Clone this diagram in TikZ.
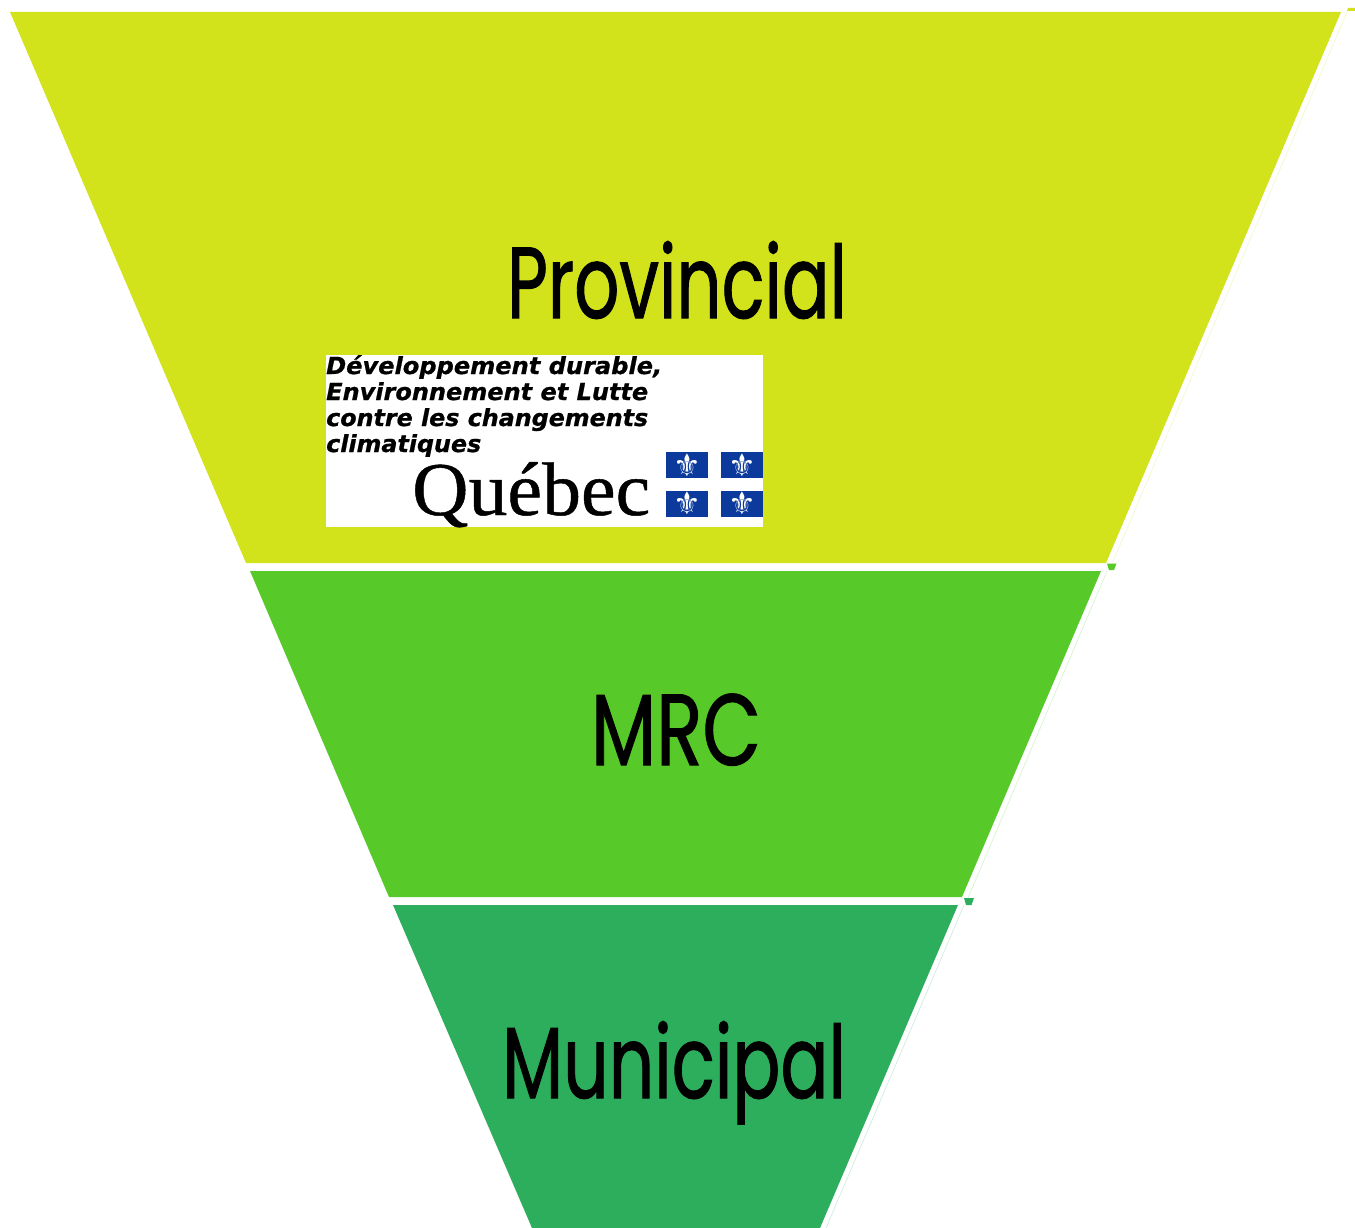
\documentclass[tikz,border=0pt]{standalone}
\usepackage{fontspec}
\usepackage{graphicx}
\newfontfamily\titlefont[FakeBold=1.2]{Poppins}
\newfontfamily\logosans{DejaVu Sans}
\newfontfamily\logoheavy[FakeBold=0.8]{DejaVu Sans}
\newfontfamily\logoserif[FakeBold=0.6]{Liberation Serif}
\definecolor{tierone}{HTML}{D2E21B}
\definecolor{tiertwo}{HTML}{57C928}
\definecolor{tierthree}{HTML}{2DAE5C}
\definecolor{flagblue}{HTML}{0B3A9C}
\tikzset{
  tiertitle/.style={anchor=base,inner sep=0pt,text=black,font=\titlefont\fontsize{101}{101}\selectfont},
  logoline/.style={anchor=base west,inner sep=0pt,text=black,font=\logoheavy\bfseries\itshape\fontsize{23.5}{24}\selectfont},
  flagpane/.style={fill=flagblue,draw=none,minimum width=42pt,minimum height=26pt,inner sep=0pt,text=white,font=\logosans\fontsize{31}{31}\selectfont},
  sliver/.style={line width=0.7pt,opacity=0.22}
}
\begin{document}
\begin{tikzpicture}[x=1pt,y=-1pt]
\useasboundingbox (0,0) rectangle (1355,1228);
\fill[white] (0,0) rectangle (1355,1228);
% tiers
\fill[tierone] (10,12) -- (1341,12) -- (1106,563) -- (246,563) -- cycle;
\fill[tiertwo] (250,571) -- (1101,571) -- (962,897) -- (389,897) -- cycle;
\fill[tierthree] (393,905) -- (958,905) -- (820,1228) -- (532,1228) -- cycle;
% offset slivers on the right edge
\fill[tierone] (1348,8) -- (1355,8) -- (1355,11) -- (1347,11) -- cycle;
\fill[tiertwo] (1107,563.5) -- (1116.5,563.5) -- (1114,570) -- (1109,570) -- cycle;
\fill[tierthree] (964,898) -- (974,898) -- (971.5,905) -- (966,905) -- cycle;
\draw[sliver,tierone] (1347,12) -- (1112,564);
\draw[sliver,tiertwo] (1107,571) -- (968,898);
\draw[sliver,tierthree] (964,905) -- (826,1228);
% titles
\node[tiertitle] (provincial) at (677,318) {\resizebox{340pt}{\height}{Provincial}};
\node[tiertitle] (mrc) at (676,765) {\resizebox{170pt}{\height}{MRC}};
\node[tiertitle] (municipal) at (674,1098) {\resizebox{344pt}{\height}{Municipal}};
% logo
\fill[white] (326,355) rectangle (763,527);
\node[logoline] (l1) at (326,374) {\resizebox{336pt}{\height}{Développement durable,}};
\node[logoline] (l2) at (326,400) {\resizebox{322pt}{\height}{Environnement et Lutte}};
\node[logoline] (l3) at (326,426) {\resizebox{322pt}{\height}{contre les changements}};
\node[logoline] (l4) at (326,452) {\resizebox{155pt}{\height}{climatiques}};
\node[anchor=base west,inner sep=0pt,text=black,font=\logoserif\fontsize{76}{76}\selectfont] (quebec) at (412,515) {\resizebox{238pt}{\height}{Québec}};
\node[flagpane] (f1) at (687,465) {⚜};
\node[flagpane] (f2) at (742,465) {⚜};
\node[flagpane] (f3) at (687,503.5) {⚜};
\node[flagpane] (f4) at (742,503.5) {⚜};
\end{tikzpicture}
\end{document}
